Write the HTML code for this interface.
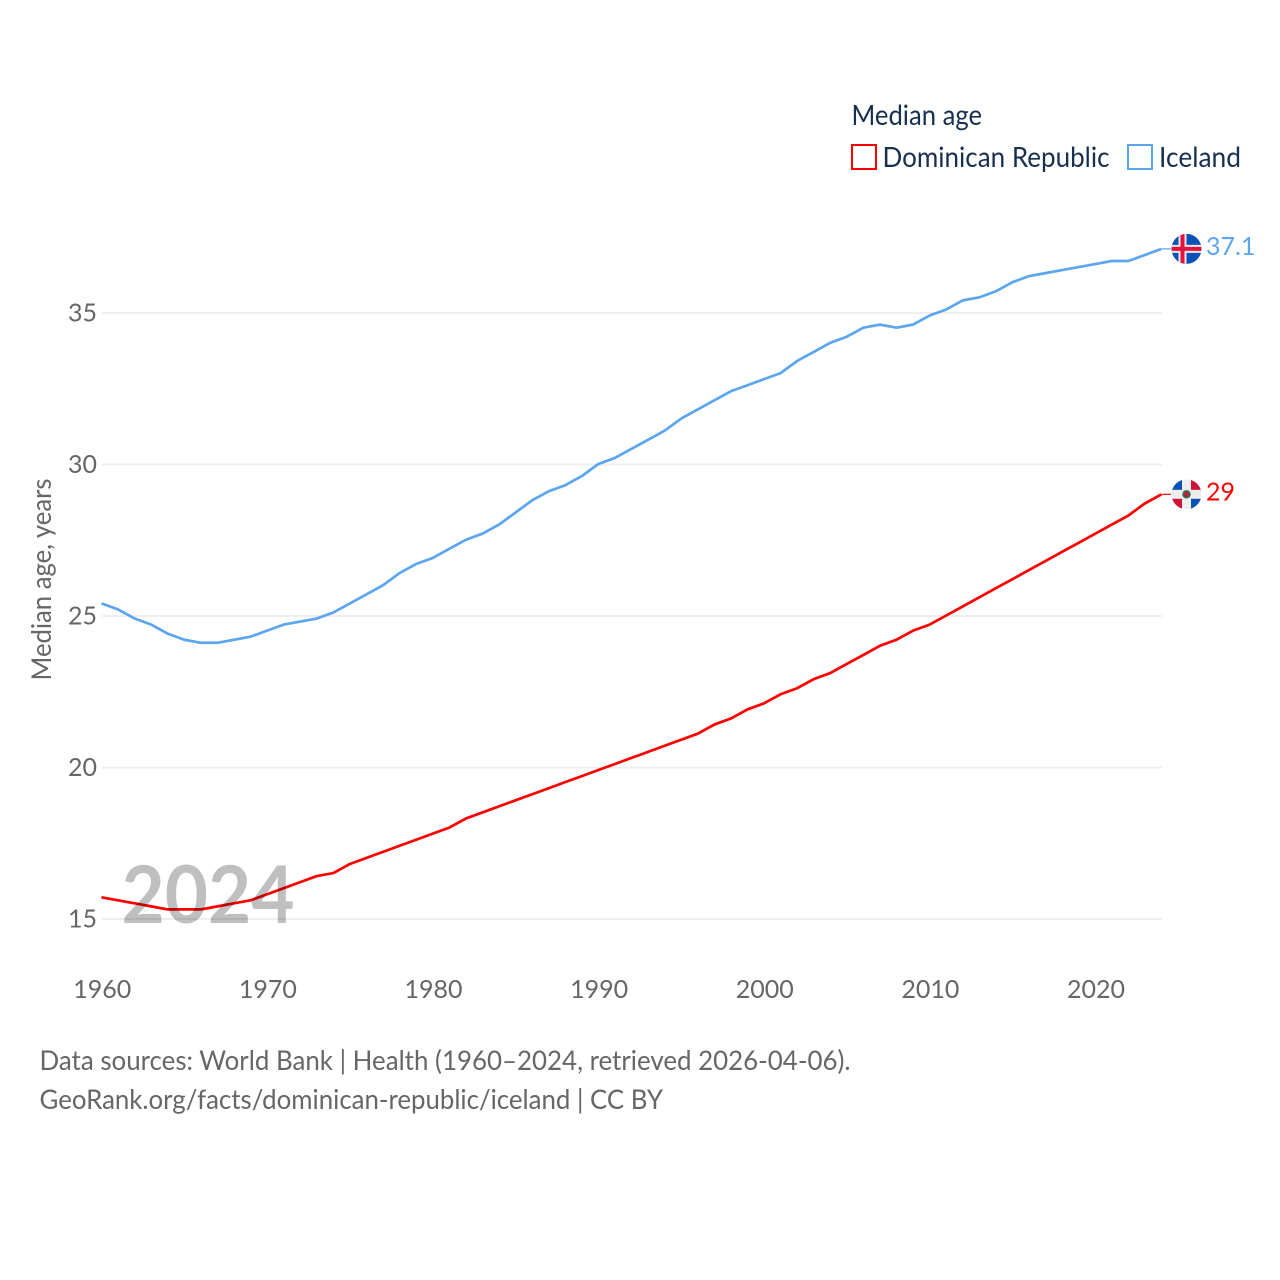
<!DOCTYPE html>
<html lang="en">
<head>
<meta charset="utf-8">
<title>Median age: Dominican Republic and Iceland</title>
<style>
html,body{margin:0;padding:0;background:#fff;width:1280px;height:1280px;overflow:hidden}
svg{display:block}
text{font-family:"Lato","Carlito","Liberation Sans",sans-serif}
</style>
</head>
<body>
<svg id="chart" width="1280" height="1280" viewBox="0 0 1280 1280" xmlns="http://www.w3.org/2000/svg">
  <defs>
    <clipPath id="flag-clip-is"><circle cx="0" cy="0" r="15"/></clipPath>
    <clipPath id="flag-clip-do"><circle cx="0" cy="0" r="15"/></clipPath>
  </defs>
  <rect width="1280" height="1280" fill="#fff"/>
  <g id="grid"></g>
  <g id="yticks"></g>
  <g id="xticks"></g>
  <text transform="translate(51 680.5) rotate(-90)" font-size="27" fill="#666" textLength="202" lengthAdjust="spacingAndGlyphs">Median age, years</text>
  <g id="series"></g>
  <g id="flag-is">
    <g clip-path="url(#flag-clip-is)">
      <rect x="-15" y="-15" width="30" height="30" fill="#0a52b5"/>
      <rect x="-8" y="-15" width="8" height="30" fill="#f1e6e6"/>
      <rect x="-15" y="-4" width="30" height="8" fill="#f1e6e6"/>
      <rect x="-6" y="-15" width="4" height="30" fill="#e0143c"/>
      <rect x="-15" y="-2" width="30" height="4" fill="#e0143c"/>
    </g>
  </g>
  <g id="flag-do">
    <g clip-path="url(#flag-clip-do)">
      <rect x="-15" y="-15" width="30" height="30" fill="#eeeeee"/>
      <rect x="-15" y="-15" width="10.5" height="10.5" fill="#0a52b5"/>
      <rect x="4.5" y="-15" width="10.5" height="10.5" fill="#ce1136"/>
      <rect x="-15" y="4.5" width="10.5" height="10.5" fill="#ce1136"/>
      <rect x="4.5" y="4.5" width="10.5" height="10.5" fill="#0a52b5"/>
      <circle r="4.2" fill="#2c6a50"/>
      <circle r="2.6" fill="#c0203a"/>
    </g>
  </g>
  <g id="labels"></g>

  <g>
    <text x="851.5" y="125" font-size="28" fill="#18304f" textLength="130.5" lengthAdjust="spacingAndGlyphs">Median age</text>
    <rect x="852" y="145" width="24" height="24" fill="#fff" stroke="#ff0000" stroke-width="2"/>
    <text x="882.5" y="167" font-size="28" fill="#18304f" textLength="227" lengthAdjust="spacingAndGlyphs">Dominican Republic</text>
    <rect x="1128" y="145" width="24" height="24" fill="#fff" stroke="#5ba6ee" stroke-width="2"/>
    <text x="1159" y="167" font-size="28" fill="#18304f" textLength="82" lengthAdjust="spacingAndGlyphs">Iceland</text>
  </g>

  <text x="121.5" y="923" font-size="80" font-weight="700" fill="#000" fill-opacity="0.25" textLength="173" lengthAdjust="spacingAndGlyphs">2024</text>

  <text x="39.5" y="1070" font-size="27" fill="#666" textLength="811" lengthAdjust="spacingAndGlyphs">Data sources: World Bank | Health (1960–2024, retrieved 2026-04-06).</text>
  <text x="39.5" y="1109" font-size="27" fill="#666" textLength="623.5" lengthAdjust="spacingAndGlyphs">GeoRank.org/facts/dominican-republic/iceland | CC BY</text>
</svg>
<script>
const startYear = 1960;
const xTickLabels = [1960, 1970, 1980, 1990, 2000, 2010, 2020];
const yTickLabels = [15, 20, 25, 30, 35];
const dominicanValues = [15.7,15.6,15.5,15.4,15.3,15.3,15.3,15.4,15.5,15.6,15.8,16.0,16.2,16.4,16.5,16.8,17.0,17.2,17.4,17.6,17.8,18.0,18.3,18.5,18.7,18.9,19.1,19.3,19.5,19.7,19.9,20.1,20.3,20.5,20.7,20.9,21.1,21.4,21.6,21.9,22.1,22.4,22.6,22.9,23.1,23.4,23.7,24.0,24.2,24.5,24.7,25.0,25.3,25.6,25.9,26.2,26.5,26.8,27.1,27.4,27.7,28.0,28.3,28.7,29.0];
const icelandValues = [25.4,25.2,24.9,24.7,24.4,24.2,24.1,24.1,24.2,24.3,24.5,24.7,24.8,24.9,25.1,25.4,25.7,26.0,26.4,26.7,26.9,27.2,27.5,27.7,28.0,28.4,28.8,29.1,29.3,29.6,30.0,30.2,30.5,30.8,31.1,31.5,31.8,32.1,32.4,32.6,32.8,33.0,33.4,33.7,34.0,34.2,34.5,34.6,34.5,34.6,34.9,35.1,35.4,35.5,35.7,36.0,36.2,36.3,36.4,36.5,36.6,36.7,36.7,36.9,37.1];

const NS = 'http://www.w3.org/2000/svg';
function xScale(year) { return 101.5 + (year - 1960) * (1161.5 - 101.5) / 64; }
function yScale(v) { return 918.5 - (v - 15) * (918.5 - 312.5) / 20; }
function make(tag, attrs, parent, txt) {
  const el = document.createElementNS(NS, tag);
  for (const k in attrs) el.setAttribute(k, attrs[k]);
  if (txt !== undefined) el.textContent = txt;
  parent.appendChild(el);
  return el;
}
const grid = document.getElementById('grid');
const yticks = document.getElementById('yticks');
const xticks = document.getElementById('xticks');
const series = document.getElementById('series');
const labels = document.getElementById('labels');

yTickLabels.forEach(function (t) {
  const line = make('line', {x1: 102, x2: 1162, y1: yScale(t) + 0.5, y2: yScale(t) + 0.5, stroke: '#eeeeee', 'stroke-width': 2}, grid);
  
  
  const label = make('text', {x: 97, y: yScale(t) + 9, 'text-anchor': 'end', 'font-size': 25, fill: '#666'}, yticks, String(t));
  
  
});
xTickLabels.forEach(function (t) {
  const label = make('text', {x: xScale(t) + 0.7, y: 998, 'text-anchor': 'middle', 'font-size': 25, fill: '#666'}, xticks, String(t));
  
  
});
function linePoints(values) {
  return values.map(function (v, i) { return xScale(startYear + i).toFixed(2) + ',' + yScale(v).toFixed(2); }).join(' ');
}
function drawSeries(values, color, key, flagId, valueText) {
  const path = make('polyline', {points: linePoints(values), fill: 'none', stroke: color, 'stroke-width': 2.7, 'stroke-linejoin': 'round'}, series);
  
  
  const lastY = yScale(values[values.length - 1]);
  const conn = make('line', {x1: 1162, x2: 1171, y1: lastY, y2: lastY, stroke: color, 'stroke-width': 1.2}, series);
  
  
  document.getElementById(flagId).setAttribute('transform', 'translate(1186.5 ' + lastY + ')');
  const label = make('text', {x: 1206, y: lastY + 6, 'font-size': 25, fill: color}, labels, valueText);
  
  
}
drawSeries(icelandValues, '#5ba6ee', 'iceland', 'flag-is', String(icelandValues[icelandValues.length - 1]));
drawSeries(dominicanValues, '#ff0000', 'dominican-republic', 'flag-do', String(dominicanValues[dominicanValues.length - 1]));
</script>
</body>
</html>
